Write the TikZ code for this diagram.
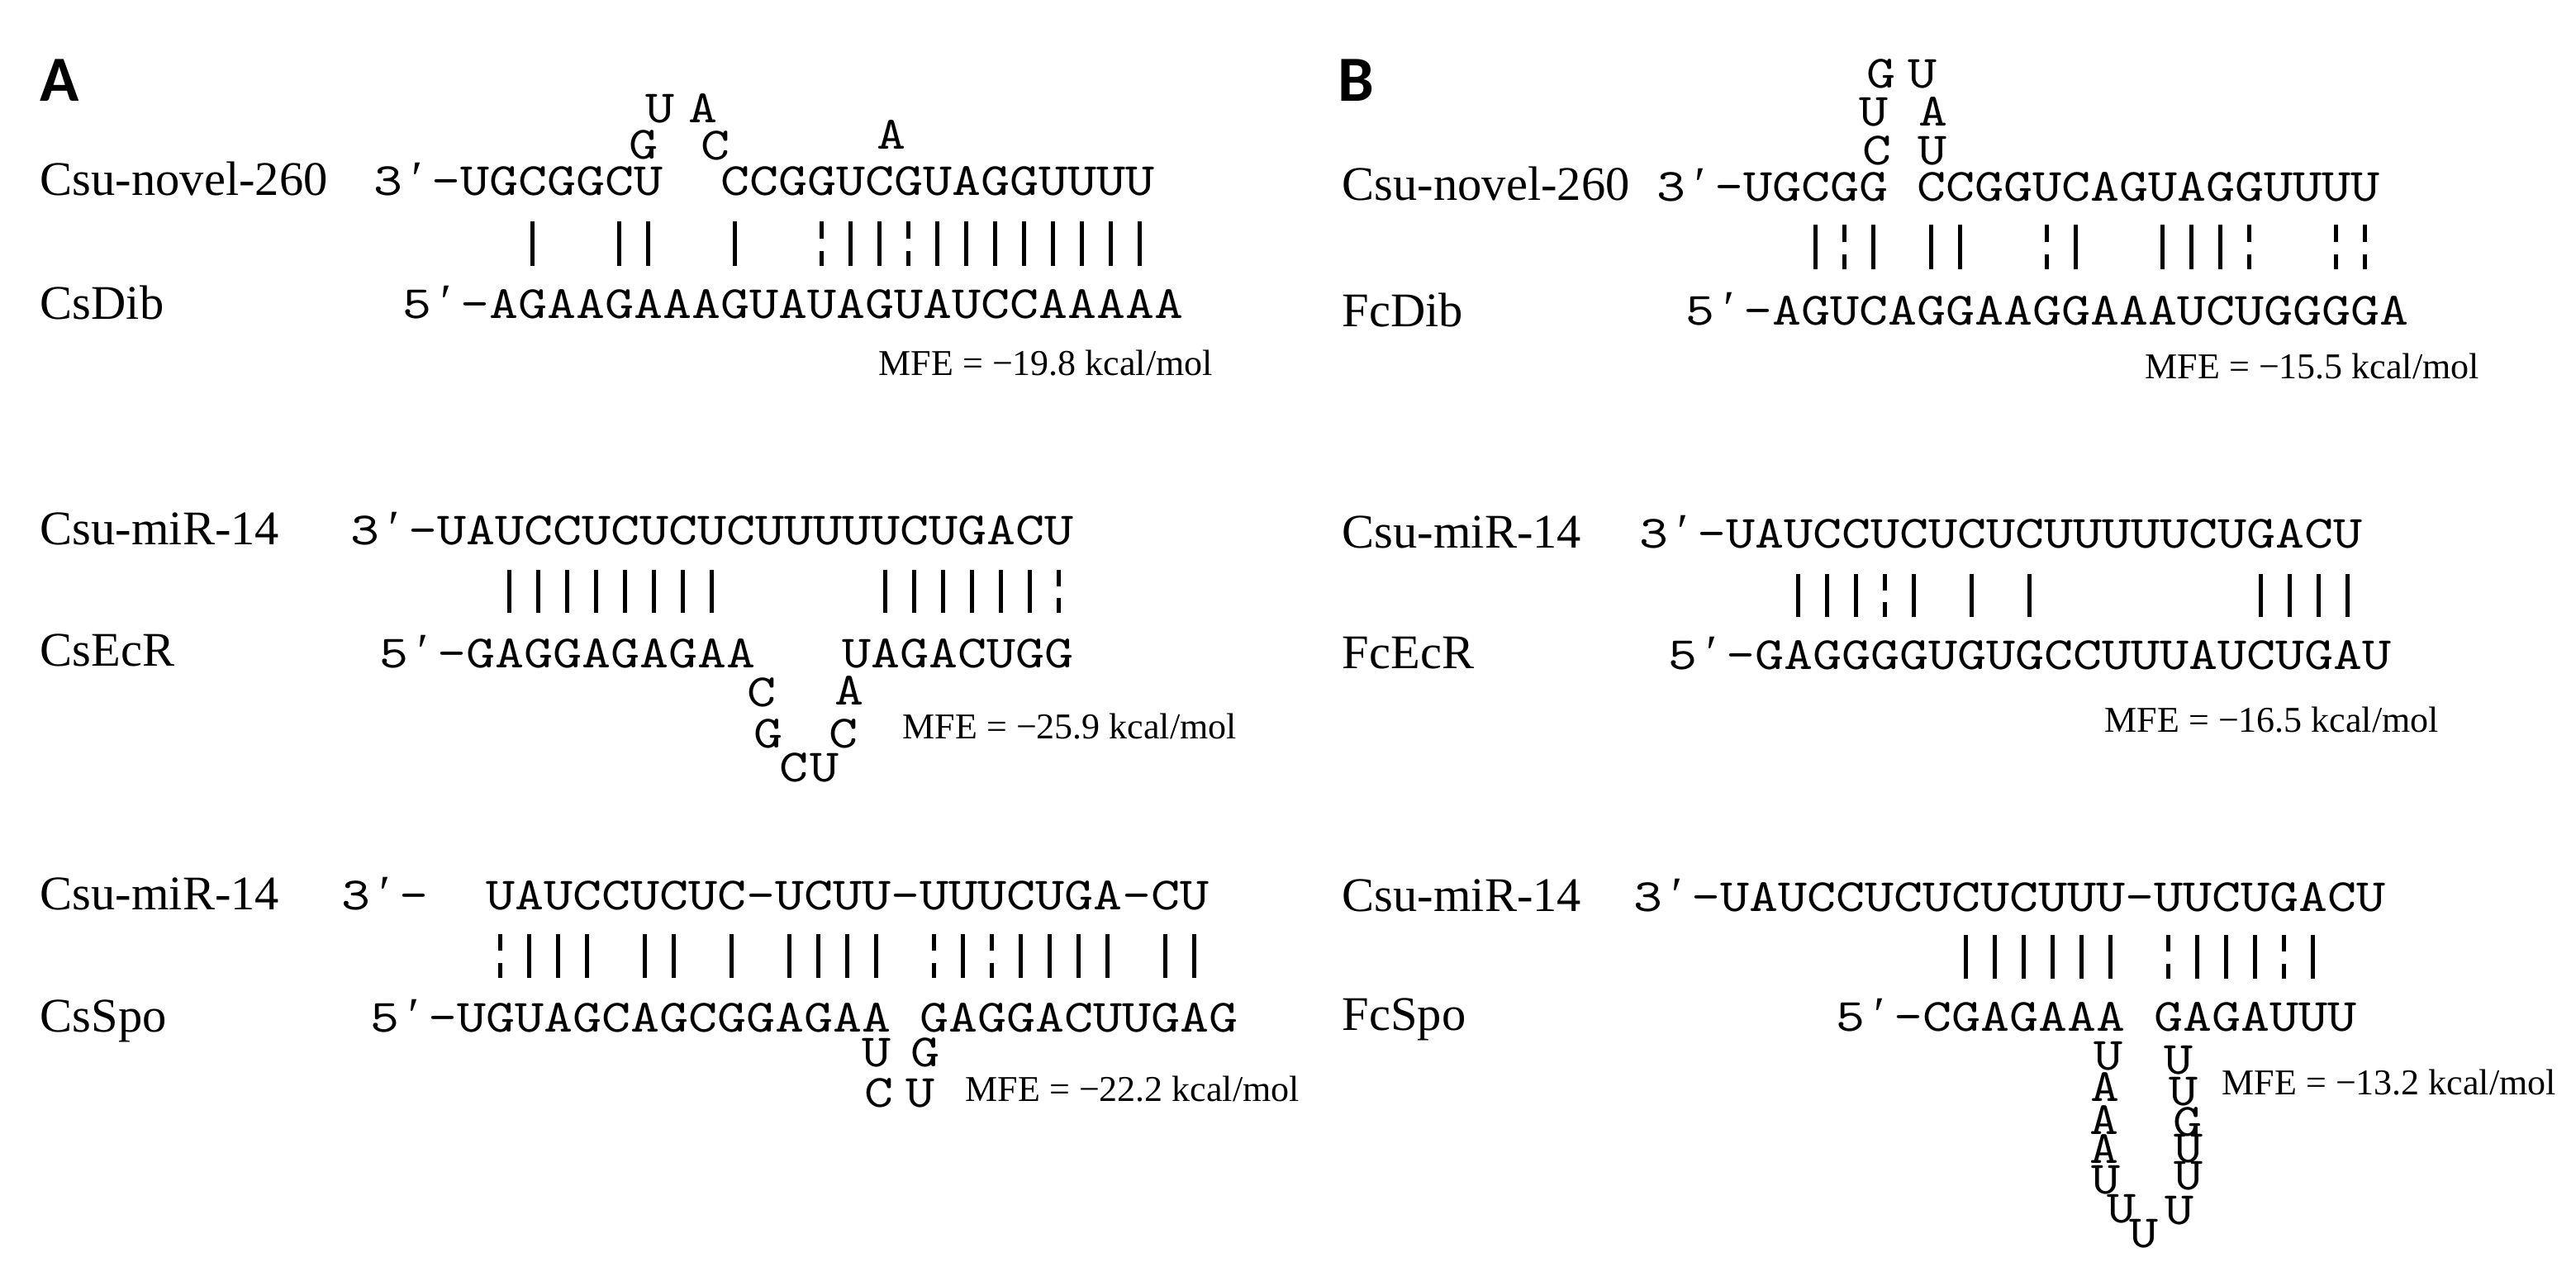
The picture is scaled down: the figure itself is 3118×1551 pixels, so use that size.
\documentclass[tikz,border=0pt]{standalone}
\usepackage{fontspec}
\setmainfont{Liberation Serif}
\newfontfamily\seqfont{lmmono10-regular.otf}[FakeStretch=1.1905]
\newfontfamily\panelfont{Carlito}
\newcommand\gap[1]{\hspace*{\dimexpr 8.75pt*#1\relax}}
\newcommand\pr{\makebox[8.75pt]{\rmfamily\fontsize{15pt}{16pt}\selectfont ′}}
\newcommand\pairbars[5]{%
  \foreach \k in {#4} {\draw[pair] ({#1+35*\k},#2) -- ({#1+35*\k},#3);}
  \foreach \k in {#5} {\draw[pair] ({#1+35*\k},#2) -- ({#1+35*\k},{#2+0.38*(#3-#2)});
                       \draw[pair] ({#1+35*\k},{#2+0.66*(#3-#2)}) -- ({#1+35*\k},#3);}%
}
\tikzset{
  lab/.style={anchor=base west, inner sep=0pt, font=\fontsize{14.625pt}{16pt}\selectfont},
  seq/.style={anchor=base west, inner sep=0pt, font=\seqfont\fontsize{14pt}{16pt}\selectfont},
  nt/.style={anchor=base, inner sep=0pt, font=\seqfont\fontsize{14pt}{16pt}\selectfont},
  mfe/.style={anchor=base west, inner sep=0pt, font=\fontsize{11pt}{13pt}\selectfont},
  panel/.style={anchor=base west, inner sep=0pt, font=\panelfont\bfseries\fontsize{19.5pt}{22pt}\selectfont},
  pair/.style={line width=1.25pt, black},
}
\begin{document}
\begin{tikzpicture}[x=0.25pt, y=-0.25pt]
\fill[white] (0,0) rectangle (3118,1551);
\useasboundingbox (0,0) rectangle (3118,1551);

% ---------------- Panel A ----------------
\node[panel] (pA) at (48,123) {A};

% A1
\node[lab] (a1l) at (48,237) {Csu-novel-260};
\node[lab] (a1b) at (48,386) {CsDib};
\node[seq] (a1t) at (451.5,237) {3\pr-UGCGGCU\gap{2}CCGGUCGUAGGUUUU};
\node[seq] (a1s) at (486.5,385) {5\pr-AGAAGAAAGUAUAGUAUCCAAAAA};
\node[nt] (a1n1) at (799,149) {U};
\node[nt] (a1n2) at (851,149) {A};
\node[nt] (a1n3) at (779,193) {G};
\node[nt] (a1n4) at (866,194) {C};
\node[nt] (a1n5) at (1079,181) {A};
\pairbars{574}{268}{322}{2,5,6,9,13,14,16,17,...,23}{12,15}
\node[mfe] (a1m) at (1063,455) {MFE = −19.8 kcal/mol};

% A2
\node[lab] (a2l) at (48,659) {Csu-miR-14};
\node[lab] (a2b) at (48,806) {CsEcR};
\node[seq] (a2t) at (423.5,659) {3\pr-UAUCCUCUCUCUUUUUCUGACU};
\node[seq] (a2s) at (458.5,808) {5\pr-GAGGAGAGAA\gap{3}UAGACUGG};
\node[nt] (a2n1) at (922,855) {C};
\node[nt] (a2n2) at (1028,853) {A};
\node[nt] (a2n3) at (930,905) {G};
\node[nt] (a2n4) at (1021,905) {C};
\node[nt] (a2n5) at (961,946) {C};
\node[nt] (a2n6) at (998,946) {U};
\pairbars{546}{690}{742}{2,3,...,9,15,16,...,20}{21}
\node[mfe] (a2m) at (1092,894) {MFE = −25.9 kcal/mol};

% A3
\node[lab] (a3l) at (48,1101) {Csu-miR-14};
\node[lab] (a3b) at (48,1249) {CsSpo};
\node[seq] (a3t) at (412.5,1101) {3\pr-\gap{2}UAUCCUCUC-UCUU-UUUCUGA-CU};
\node[seq] (a3s) at (447.5,1249) {5\pr-UGUAGCAGCGGAGAA\gap{1}GAGGACUUGAG};
\node[nt] (a3n1) at (1061,1291) {U};
\node[nt] (a3n2) at (1120,1291) {G};
\node[nt] (a3n3) at (1064,1340) {C};
\node[nt] (a3n4) at (1114,1340) {U};
\pairbars{605}{1131}{1184}{1,2,3,5,6,8,10,11,12,13,16,18,19,20,21,23,24}{0,15,17}
\node[mfe] (a3m) at (1168,1333) {MFE = −22.2 kcal/mol};

% ---------------- Panel B ----------------
\node[panel] (pB) at (1619,123) {B};

% B1
\node[lab] (b1l) at (1624,243) {Csu-novel-260};
\node[lab] (b1b) at (1624,396) {FcDib};
\node[seq] (b1t) at (2005,244) {3\pr-UGCGG\gap{1}CCGGUCAGUAGGUUUU};
\node[seq] (b1s) at (2040,394) {5\pr-AGUCAGGAAGGAAAUCUGGGGA};
\node[nt] (b1n1) at (2277,107) {G};
\node[nt] (b1n2) at (2327,107) {U};
\node[nt] (b1n3) at (2268,153) {U};
\node[nt] (b1n4) at (2340,153) {A};
\node[nt] (b1n5) at (2272,200) {C};
\node[nt] (b1n6) at (2339,200) {U};
\pairbars{2127.5}{272}{326}{2,4,6,7,11,14,15,16}{3,10,17,20,21}
\node[mfe] (b1m) at (2596,458) {MFE = −15.5 kcal/mol};

% B2
\node[lab] (b2l) at (1624,663) {Csu-miR-14};
\node[lab] (b2b) at (1624,809) {FcEcR};
\node[seq] (b2t) at (1984,663) {3\pr-UAUCCUCUCUCUUUUUCUGACU};
\node[seq] (b2s) at (2019,810) {5\pr-GAGGGGUGUGCCUUUAUCUGAU};
\pairbars{2106.5}{695}{747}{2,3,4,6,8,10,18,19,20,21}{5}
\node[mfe] (b2m) at (2547,886) {MFE = −16.5 kcal/mol};

% B3
\node[lab] (b3l) at (1624,1103) {Csu-miR-14};
\node[lab] (b3b) at (1624,1247) {FcSpo};
\node[seq] (b3t) at (1977,1103) {3\pr-UAUCCUCUCUCUUU-UUCUGACU};
\node[seq] (b3s) at (2222,1248) {5\pr-CGAGAAA\gap{1}GAGAUUU};
\node[nt] (b3l1) at (2552,1295) {U};
\node[nt] (b3l2) at (2548,1333) {A};
\node[nt] (b3l3) at (2547,1373) {A};
\node[nt] (b3l4) at (2547,1408) {A};
\node[nt] (b3l5) at (2549,1445) {U};
\node[nt] (b3l6) at (2568,1480) {U};
\node[nt] (b3l7) at (2595,1510) {U};
\node[nt] (b3r1) at (2637,1300) {U};
\node[nt] (b3r2) at (2643,1338) {U};
\node[nt] (b3r3) at (2648,1375) {G};
\node[nt] (b3r4) at (2649,1407) {U};
\node[nt] (b3r5) at (2649,1440) {U};
\node[nt] (b3r6) at (2638,1482) {U};
\pairbars{2099.5}{1132}{1185}{8,9,...,13,16,17,18,20}{15,19}
\node[mfe] (b3m) at (2689,1325) {MFE = −13.2 kcal/mol};
\end{tikzpicture}
\end{document}
